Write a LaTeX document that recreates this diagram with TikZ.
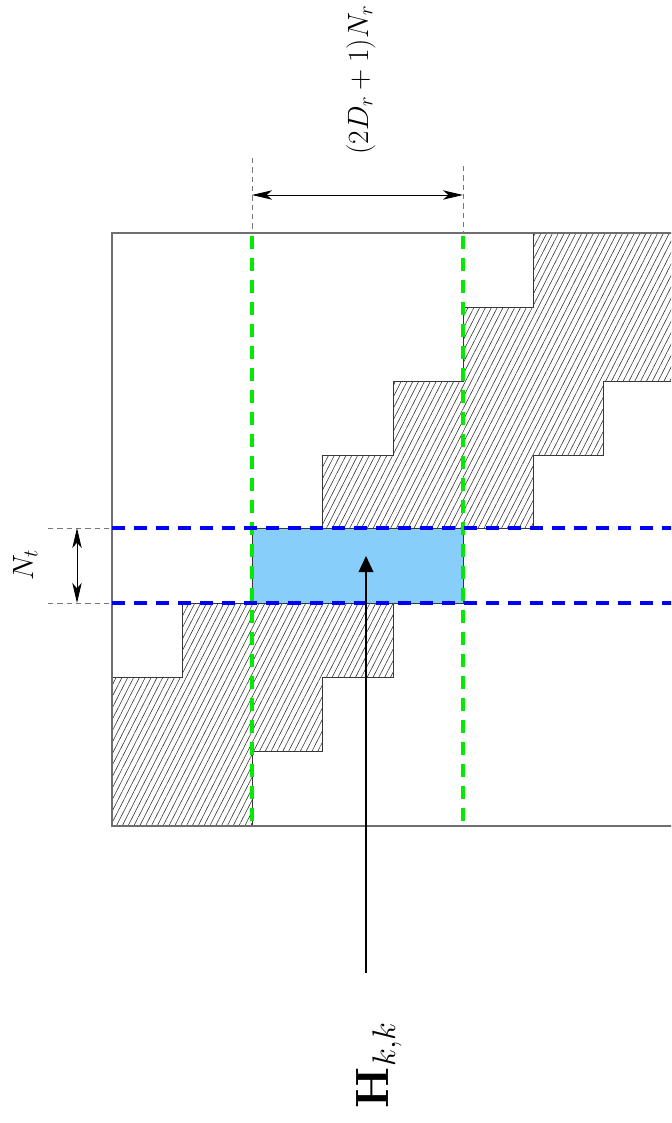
\RequirePackage{fix-cm}
\documentclass[tikz,border=0pt]{standalone}
\usetikzlibrary{arrows.meta,patterns.meta}

\definecolor{framegray}{RGB}{110,110,110}
\definecolor{hatchgray}{RGB}{55,55,55}
\definecolor{guidegreen}{RGB}{0,235,0}
\definecolor{guideblue}{RGB}{0,0,245}
\definecolor{blockblue}{RGB}{135,206,250}
\definecolor{extgray}{RGB}{120,120,120}

\tikzset{every picture/.style={line width=0.75pt}}
\tikzset{
  matrixframe/.style={draw=framegray,line width=1.1pt},
  hatchband/.style={pattern={Lines[angle=63,distance=3.9pt,line width=0.45pt]},pattern color=hatchgray,draw=hatchgray,line width=0.6pt},
  greenguide/.style={draw=guidegreen,line width=2.3pt,dash pattern={on 9.5pt off 7pt}},
  blueguide/.style={draw=guideblue,line width=2.3pt,dash pattern={on 10pt off 6.5pt}},
  extline/.style={draw=extgray,line width=0.6pt,dash pattern={on 4pt off 3pt}},
  dimarrow/.style={{Stealth[length=15pt,width=7pt,inset=4pt]}-{Stealth[length=15pt,width=7pt,inset=4pt]},line width=0.7pt},
  dimlabel/.style={anchor=base,rotate=90,inner sep=0.75pt,font=\fontsize{22}{26}\selectfont}
}

\begin{document}
\begin{tikzpicture}[x=0.75pt,y=0.75pt,yscale=-1,xscale=1]
\useasboundingbox (0,0) rectangle (671,1123);
\clip (0,0) rectangle (671,1123);

%Shape: upper hatched band
\draw [hatchband] (533,233) -- (533,307) -- (463,307) -- (463,381) -- (393,381) -- (393,455) -- (322,455) -- (322,528) -- (533,528) -- (533,455) -- (603,455) -- (603,381) -- (673,381) -- (673,307) -- (744,307) -- (744,233) -- cycle ;
%Shape: lower hatched band
\draw [hatchband] (182,603) -- (393,603) -- (393,677) -- (322,677) -- (322,751) -- (252,751) -- (252,826) -- (112,826) -- (112,677) -- (182,677) -- cycle ;
%Shape: block H_{k,k}
\draw [draw=hatchgray,fill=blockblue,line width=0.6pt] (252,528) rectangle (463,603) ;

%Straight Lines: matrix frame
\draw [matrixframe] (700,233) -- (112,233) -- (112,826) -- (700,826) ;

%Straight Lines: extension lines
\draw [extline] (252,158) -- (252,233) ;
\draw [extline] (463,166) -- (463,233) ;
\draw [extline] (48,528) -- (112,528) ;
\draw [extline] (48,603) -- (112,603) ;

%Straight Lines: green column guides
\draw [greenguide] (252,236) -- (252,826) ;
\draw [greenguide] (463,236) -- (463,826) ;
%Straight Lines: blue row guides
\draw [blueguide] (112,528) -- (700,528) ;
\draw [blueguide] (112,603) -- (700,603) ;

%Dimension arrows
\coordinate (colL) at (252,195) ;
\coordinate (colR) at (463,195) ;
\coordinate (rowT) at (77,528) ;
\coordinate (rowB) at (77,603) ;
\draw [dimarrow] (colL) -- (colR) ;
\draw [dimarrow] (rowT) -- (rowB) ;

%Pointer to the block
\coordinate (hTail) at (366,973) ;
\coordinate (hTip) at (366,556) ;
\draw [-{Triangle[length=12pt,width=11pt]},line width=1.1pt] (hTail) -- (hTip) ;

% Text Node
\node (ntlabel) [dimlabel] at (33,565) {$N_t$};
% Text Node
\node (nrlabel) [dimlabel] at (368,80) {$(2D_r+1)N_r$};
% Text Node
\node (hlabel) [anchor=base,rotate=90,inner sep=0.75pt,font=\fontsize{35}{40}\selectfont] at (388,1065) {$\mathbf{H}_{k,k}$};

\end{tikzpicture}
\end{document}
